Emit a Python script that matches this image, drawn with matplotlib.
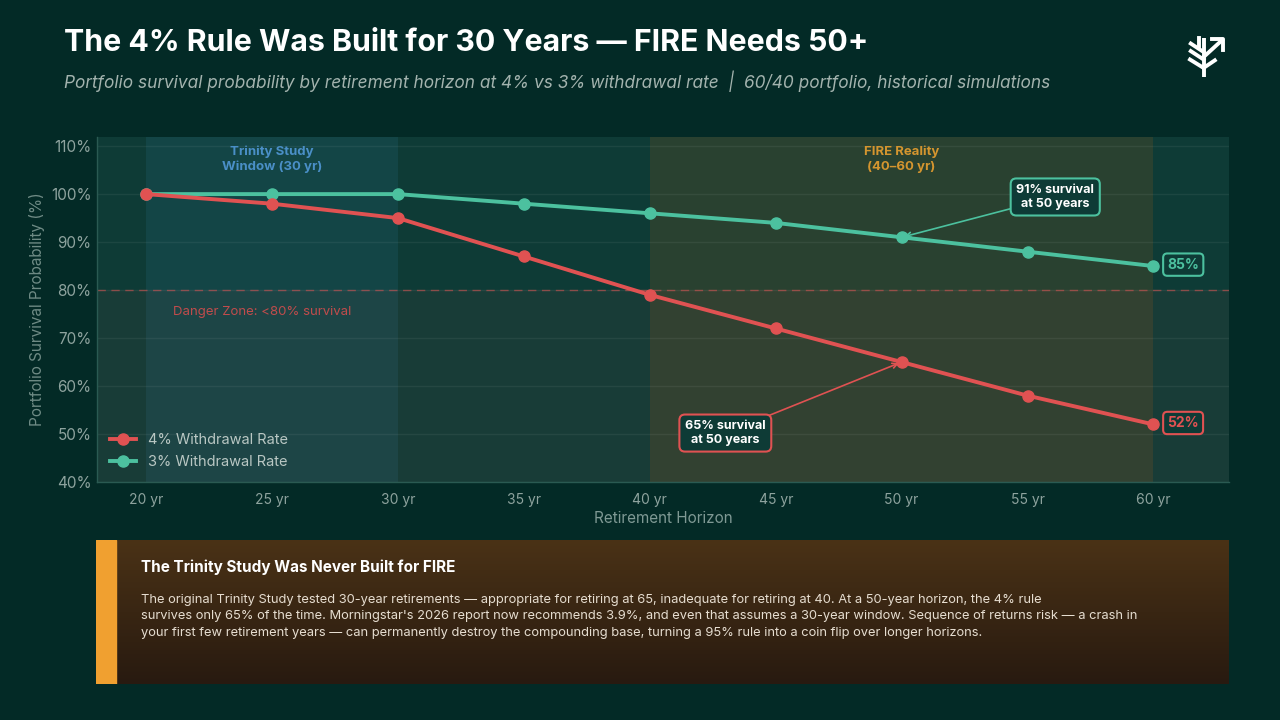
import numpy as np
import matplotlib.pyplot as plt
from matplotlib.patches import Rectangle

plt.rcParams['font.family'] = ['Inter', 'DejaVu Sans']

horizons = [20, 25, 30, 35, 40, 45, 50, 55, 60]
rate_4 = [100, 98, 95, 87, 79, 72, 65, 58, 52]
rate_3 = [100, 100, 100, 98, 96, 94, 91, 88, 85]
y_ticks = [40, 50, 60, 70, 80, 90, 100, 110]

BG = '#032a26'
AX_BG = '#0e3b36'
RED = '#e05252'
TEAL = '#4cc19f'
TICK = '#8ea39e'

fig = plt.figure(figsize=(12.8, 7.2), dpi=100)
fig.patch.set_facecolor(BG)

# title block
fig.text(64 / 1280, 1 - 43 / 720, 'The 4% Rule Was Built for 30 Years — FIRE Needs 50+',
         color='white', fontsize=21.8, fontweight='bold', va='center')
fig.text(64 / 1280, 1 - 81 / 720,
         'Portfolio survival probability by retirement horizon at 4% vs 3% withdrawal rate  |  60/40 portfolio, historical simulations',
         color='#a3b3ae', fontsize=12.45, style='italic', va='center')

# logo (tree with arrow)
lg = fig.add_axes([1186 / 1280, 1 - 78 / 720, 40 / 1280, 42 / 720])
lg.set_xlim(0, 10)
lg.set_ylim(0, 10)
lg.axis('off')
lw = 2.8
lg.plot([4.4, 4.4], [0.2, 9.6], color='white', lw=lw, solid_capstyle='butt')
lg.plot([3.2, 3.2], [9.6, 7.6], color='white', lw=lw)
for y0 in [6.2, 4.4]:
    lg.plot([1.2, 4.4], [y0 + 2.0, y0], color='white', lw=lw)
lg.plot([1.0, 4.4], [4.4, 2.4], color='white', lw=lw)
lg.plot([4.4, 7.2], [2.4, 4.2], color='white', lw=lw)
lg.plot([4.4, 9.0], [5.0, 9.0], color='white', lw=lw)
lg.plot([6.4, 9.2, 9.2], [9.2, 9.2, 6.6], color='white', lw=lw)

ax = fig.add_axes([97 / 1280, 1 - 482 / 720, 1132 / 1280, 345 / 720])
ax.set_facecolor(AX_BG)
ax.set_xlim(18.05, 63.0)
ax.set_ylim(40, 111.9)

ax.axvspan(20, 30, color='#1f5a66', alpha=0.35, lw=0, zorder=0)
ax.axvspan(40, 60, color='#4a4a2a', alpha=0.45, lw=0, zorder=0)
ax.axhspan(40, 80, color='#e05252', alpha=0.05, lw=0, zorder=0)

for yv in y_ticks:
    ax.axhline(yv, color='#ffffff', alpha=0.06, lw=1, zorder=1)
ax.axhline(80, color=RED, lw=1, ls=(0, (6, 4)), alpha=0.55, zorder=2)

ax.plot(horizons, rate_4, color=RED, lw=2.8, marker='o', ms=8, label='4% Withdrawal Rate', zorder=4)
ax.plot(horizons, rate_3, color=TEAL, lw=2.8, marker='o', ms=8, label='3% Withdrawal Rate', zorder=3)

ax.set_xticks(horizons)
ax.set_xticklabels([f'{h} yr' for h in horizons])
ax.set_yticks(y_ticks)
ax.set_yticklabels([f'{v}%' for v in y_ticks])
ax.tick_params(axis='x', colors=TICK, labelsize=10, length=0, pad=8)
ax.tick_params(axis='y', colors=TICK, labelsize=11, length=0, pad=4)
for s in ax.spines.values():
    s.set_color('#2a5a52')
    s.set_linewidth(1)
ax.spines['top'].set_visible(False)
ax.spines['right'].set_visible(False)

ax.set_xlabel('Retirement Horizon', color='#7f9994', fontsize=11, labelpad=3)
ax.set_ylabel('Portfolio Survival Probability (%)', color='#6f8b85', fontsize=11, labelpad=4)

ax.text(25, 107.3, 'Trinity Study\nWindow (30 yr)', color='#4a8fc7', fontsize=9.5,
        fontweight='bold', ha='center', va='center', linespacing=1.3)
ax.text(50, 107.3, 'FIRE Reality\n(40–60 yr)', color='#d4952f', fontsize=9.5,
        fontweight='bold', ha='center', va='center', linespacing=1.3)
ax.text(21.05, 75.5, 'Danger Zone: <80% survival', color='#c04c4c', fontsize=9.5, va='center')

ax.annotate('91% survival\nat 50 years', xy=(50, 91), xytext=(56.1, 99.4),
            color='white', fontsize=9, fontweight='bold', ha='center', va='center',
            bbox=dict(boxstyle='round,pad=0.45', fc='#0e3b36', ec=TEAL, lw=1.5),
            arrowprops=dict(arrowstyle='->', color=TEAL, lw=1.2, shrinkA=0, shrinkB=2))
ax.annotate('65% survival\nat 50 years', xy=(50, 65), xytext=(43.0, 50.2),
            color='white', fontsize=9, fontweight='bold', ha='center', va='center',
            bbox=dict(boxstyle='round,pad=0.45', fc='#0e3b36', ec=RED, lw=1.5),
            arrowprops=dict(arrowstyle='->', color=RED, lw=1.2, shrinkA=0, shrinkB=2))

ax.text(60.55, rate_3[-1] + 0.3, f'{rate_3[-1]}%', color=TEAL, fontsize=10, fontweight='bold',
        va='center', bbox=dict(boxstyle='round,pad=0.3', fc='#0e3b36', ec=TEAL, lw=1.5))
ax.text(60.55, rate_4[-1] + 0.3, f'{rate_4[-1]}%', color=RED, fontsize=10, fontweight='bold',
        va='center', bbox=dict(boxstyle='round,pad=0.3', fc='#0e3b36', ec=RED, lw=1.5))

leg = ax.legend(loc='lower left', bbox_to_anchor=(0.0, 0.0), frameon=False, fontsize=10.5,
                handlelength=1.8, labelspacing=0.55)
for t in leg.get_texts():
    t.set_color('#b9c7c3')

# insight box with vertical gradient
bx = fig.add_axes([96 / 1280, 1 - 684 / 720, 1133 / 1280, 144 / 720])
bx.set_xlim(0, 1133)
bx.set_ylim(144, 0)
bx.axis('off')
grad = np.linspace(0, 1, 256).reshape(-1, 1)
top = np.array([0x4a, 0x32, 0x16]) / 255
bot = np.array([0x28, 0x1a, 0x10]) / 255
img = top + (bot - top) * grad[..., None]
bx.imshow(img.reshape(256, 1, 3), extent=[0, 1133, 144, 0], aspect='auto', zorder=0)
bx.add_patch(Rectangle((0, 0), 20, 144, color='#f0a030', zorder=1))
bx.text(45, 27, 'The Trinity Study Was Never Built for FIRE', color='white', fontsize=11,
        fontweight='bold', va='center')
body = [
    'The original Trinity Study tested 30-year retirements — appropriate for retiring at 65, inadequate for retiring at 40. At a 50-year horizon, the 4% rule',
    'survives only 65% of the time. Morningstar\'s 2026 report now recommends 3.9%, and even that assumes a 30-year window. Sequence of returns risk — a crash in',
    'your first few retirement years — can permanently destroy the compounding base, turning a 95% rule into a coin flip over longer horizons.',
]
for i, line in enumerate(body):
    bx.text(45, 60 + i * 16.5, line, color='#e6ddd0', fontsize=9.3, va='center')

fig.savefig('out.png', dpi=100, facecolor=BG)
